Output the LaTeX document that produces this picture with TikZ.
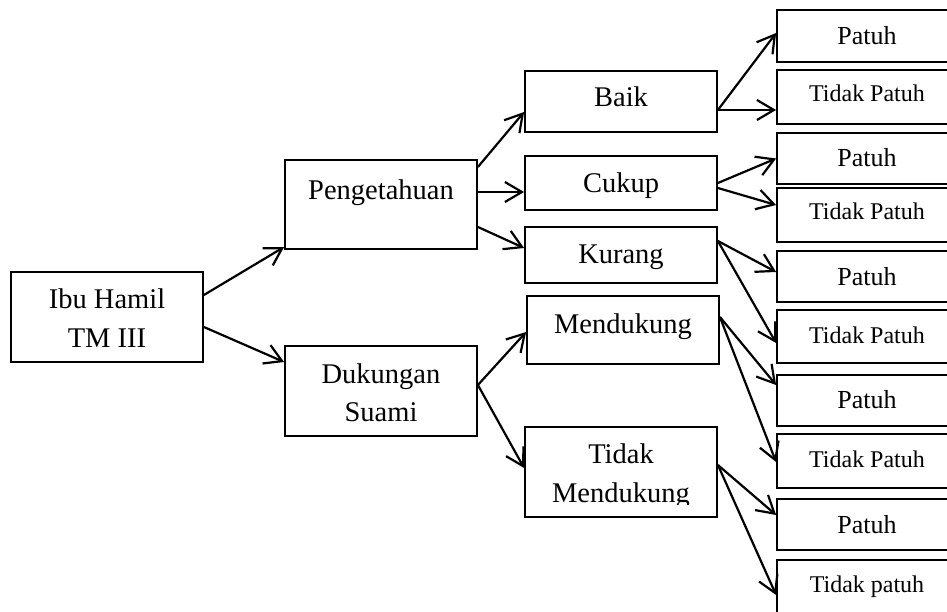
\documentclass[tikz,border=0pt]{standalone}
\usepackage{fontspec}
\setmainfont{Liberation Serif}
\usetikzlibrary{arrows.meta}
\begin{document}
\begin{tikzpicture}[x=1pt,y=-1pt,
  box/.style={draw,line width=1.8pt,inner sep=0pt,minimum width=192pt},
  rbox/.style={draw,line width=1.8pt,inner sep=0pt,minimum width=180pt},
  big/.style={anchor=base,inner sep=0pt,font=\fontsize{28.5}{34}\selectfont},
  mid/.style={anchor=base,inner sep=0pt,font=\fontsize{26}{30}\selectfont},
  small/.style={anchor=base,inner sep=0pt,font=\fontsize{24}{28}\selectfont},
  conn/.style={line width=2.2pt,-{Straight Barb[length=17pt,width=20pt,line width=2.2pt]}}]
\clip (0,0) rectangle (947,612);
\fill[white] (0,0) rectangle (947,612);
% boxes
\node[box,minimum height=90pt] (ibu) at (107,317) {};
\node[box,minimum height=89pt] (peng) at (381,204.5) {};
\node[box,minimum height=90pt] (duk) at (381,391) {};
\node[box,minimum height=61pt] (baik) at (621,101.5) {};
\node[box,minimum height=54pt] (cukup) at (621,183) {};
\node[box,minimum height=56pt] (kurang) at (621,255) {};
\node[box,minimum height=68pt] (mend) at (623,330) {};
\node[box,minimum height=90pt] (tmend) at (621,472) {};
\node[rbox,minimum height=52pt] (r1) at (867,36) {};
\node[rbox,minimum height=54pt] (r2) at (867,97) {};
\node[rbox,minimum height=51pt] (r3) at (867,158.5) {};
\node[rbox,minimum height=54pt] (r4) at (867,215) {};
\node[rbox,minimum height=51pt] (r5) at (867,276.5) {};
\node[rbox,minimum height=53pt] (r6) at (867,336.5) {};
\node[rbox,minimum height=51pt] (r7) at (867,400.5) {};
\node[rbox,minimum height=54pt] (r8) at (867,461) {};
\node[rbox,minimum height=51pt] (r9) at (867,524.5) {};
\node[rbox,minimum height=60pt] (r10) at (867,590) {};
% texts
\node[big] (tibu1) at (107,308) {Ibu Hamil};
\node[big] (tibu2) at (107,347) {TM III};
\node[big] (tpeng) at (381,200) {Pengetahuan};
\node[big] (tduk1) at (381,383) {Dukungan};
\node[big] (tduk2) at (381,421) {Suami};
\node[big] (tbaik) at (621,107) {Baik};
\node[big] (tcukup) at (621,193) {Cukup};
\node[big] (tkurang) at (621,263) {Kurang};
\node[big] (tmend1) at (623,333) {Mendukung};
\node[big] (ttm1) at (621,463) {Tidak};
\begin{scope}
\clip (525,470) rectangle (717,504);
\node[big] (ttm2) at (621,502) {Mendukung};
\end{scope}
\node[mid] (tr1) at (867,45) {Patuh};
\node[small] (tr2) at (867,102) {Tidak Patuh};
\node[mid] (tr3) at (867,167) {Patuh};
\node[small] (tr4) at (867,220) {Tidak Patuh};
\node[mid] (tr5) at (867,285) {Patuh};
\node[small] (tr6) at (867,343) {Tidak Patuh};
\node[mid] (tr7) at (867,408) {Patuh};
\node[small] (tr8) at (867,467) {Tidak Patuh};
\node[mid] (tr9) at (867,533) {Patuh};
\node[small] (tr10) at (867,592) {Tidak patuh};
% connectors
\draw[conn] ([yshift=22pt]ibu.east) -- ([yshift=-42.5pt]peng.west);
\draw[conn] ([yshift=-10pt]ibu.east) -- ([yshift=29pt]duk.west);
\draw[conn] ([yshift=37.5pt]peng.east) -- ([yshift=-10.5pt]baik.west);
\draw[conn] ([yshift=12.5pt]peng.east) -- ([yshift=-9pt]cukup.west);
\draw[conn] ([yshift=-22.5pt]peng.east) -- ([yshift=7pt]kurang.west);
\draw[conn] ([yshift=-8.5pt]baik.east) -- ([yshift=3pt]r1.west);
\draw[conn] ([yshift=-8.5pt]baik.east) -- ([yshift=-13pt]r2.west);
\draw[conn] (cukup.east) -- (r3.west);
\draw[conn] ([yshift=-5pt]cukup.east) -- ([yshift=10pt]r4.west);
\draw[conn] ([yshift=14pt]kurang.east) -- ([yshift=4.5pt]r5.west);
\draw[conn] ([yshift=14pt]kurang.east) -- ([yshift=-6.5pt]r6.west);
\draw[conn] ([yshift=6pt]duk.east) -- ([yshift=-2pt]mend.west);
\draw[conn] ([yshift=6pt]duk.east) -- ([yshift=4pt]tmend.west);
\draw[conn] ([yshift=13pt]mend.east) -- ([yshift=15.5pt]r7.west);
\draw[conn] ([yshift=13pt]mend.east) -- ([yshift=-1pt]r8.west);
\draw[conn] ([yshift=7pt]tmend.east) -- ([yshift=9.5pt]r9.west);
\draw[conn] ([yshift=7pt]tmend.east) -- ([yshift=-5pt]r10.west);
\end{tikzpicture}
\end{document}
